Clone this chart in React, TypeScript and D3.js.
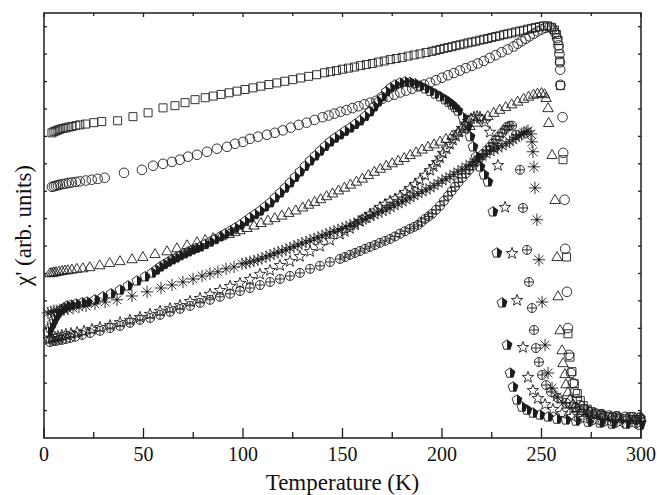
import React from 'react';
import * as d3 from 'd3';

// chi' (arb. units) vs temperature (K)
const squareData: [number, number][] = [
  [4, 11.13], [5, 11.17], [6, 11.2], [7, 11.23], [8, 11.26], [9.5, 11.29], [11, 11.31], [12.5, 11.34],
  [14, 11.36], [16, 11.39], [18, 11.42], [21, 11.45], [25, 11.5], [29, 11.54], [37, 11.57], [44.7, 11.72],
  [52.3, 11.86], [59.8, 12.04], [65.8, 12.12], [70.9, 12.23], [75.9, 12.34], [81, 12.41], [85, 12.47],
  [89, 12.53], [93, 12.59], [97, 12.65], [101, 12.71], [105, 12.77], [109, 12.83], [113, 12.89],
  [117, 12.95], [121, 13.01], [125, 13.07], [129, 13.13], [133, 13.19], [137, 13.25], [141, 13.32],
  [144, 13.36], [147, 13.4], [150, 13.45], [153, 13.49], [156, 13.53], [159, 13.58], [162, 13.62],
  [165, 13.66], [168, 13.71], [171, 13.75], [174, 13.8], [177, 13.84], [180, 13.88], [183, 13.93],
  [186, 13.97], [189, 14.01], [192, 14.06], [195, 14.1], [197, 14.14], [199, 14.17], [201, 14.21],
  [203, 14.24], [205, 14.27], [207, 14.31], [209, 14.34], [211, 14.37], [213, 14.41], [215, 14.44],
  [217, 14.47], [219, 14.51], [221, 14.54], [223, 14.57], [225, 14.61], [227, 14.64], [229, 14.67],
  [231, 14.71], [233, 14.74], [235, 14.77], [237, 14.81], [239, 14.84], [241, 14.87], [243, 14.91],
  [245, 14.94], [247, 14.97], [249, 15.0], [251, 15.03], [253, 15.03], [255, 14.98], [256.5, 14.88],
  [257.5, 14.72], [258.3, 14.5], [258.8, 14.2], [259.2, 13.75], [259.5, 12.85], [260.8, 10.15],
  [262.6, 6.6], [263.3, 3.8], [264.3, 2.95], [265.3, 2.42], [266.5, 1.98], [268, 1.62], [269.5, 1.36],
  [271, 1.18], [273, 1.05], [275, 0.96], [277.5, 0.88], [280, 0.83], [283, 0.78], [286, 0.75],
  [289, 0.72], [292, 0.7], [295, 0.68], [298, 0.67], [300, 0.66],
];

const circleData: [number, number][] = [
  [4, 9.16], [5, 9.18], [6, 9.2], [7, 9.22], [8, 9.24], [9.5, 9.26], [11, 9.28], [12.5, 9.3], [14, 9.32],
  [16, 9.34], [18, 9.36], [21, 9.39], [24, 9.42], [27, 9.45], [30.5, 9.49], [40.2, 9.67], [49.2, 9.78],
  [54.8, 9.93], [59.8, 10.0], [64.3, 10.07], [68.3, 10.15], [72.4, 10.26], [76.9, 10.33], [81.9, 10.44],
  [86.9, 10.55], [92, 10.62], [96, 10.73], [100, 10.8], [103.5, 10.91], [107.5, 10.99], [112, 11.06],
  [116, 11.13], [120, 11.22], [124, 11.32], [128, 11.42], [132, 11.5], [136, 11.6], [140, 11.7],
  [143, 11.76], [146, 11.83], [149, 11.9], [152, 11.96], [155, 12.03], [158, 12.1], [161, 12.17],
  [164, 12.23], [167, 12.3], [170, 12.37], [173, 12.45], [176, 12.52], [179, 12.6], [182, 12.67],
  [185, 12.74], [188, 12.82], [191, 12.89], [194, 12.96], [197, 13.05], [200, 13.14], [203, 13.23],
  [206, 13.31], [209, 13.4], [212, 13.49], [215, 13.57], [218, 13.66], [221, 13.75], [224, 13.86],
  [227, 13.96], [230, 14.07], [233, 14.17], [236, 14.28], [238, 14.38], [240, 14.47], [242, 14.56],
  [244, 14.65], [246, 14.74], [248, 14.83], [250, 14.9], [252, 14.96], [254, 14.98], [255.5, 14.93],
  [256.8, 14.78], [257.8, 14.58], [258.5, 14.32], [259, 14.0], [259.3, 13.7], [259.4, 13.43],
  [259.5, 12.88], [260.6, 11.7], [260.9, 10.4], [261.6, 8.69], [261.9, 6.9], [262.8, 5.33],
  [263.3, 4.01], [263.8, 3.03], [264.8, 2.37], [265.8, 2.0], [266.8, 1.68], [267.8, 1.42],
  [269.3, 1.2], [271.4, 1.06], [274, 0.95], [277, 0.9], [280, 0.86], [284, 0.82], [288, 0.79],
  [292, 0.77], [296, 0.76], [299.5, 0.75],
];

const triangleData: [number, number][] = [
  [3, 6.02], [4, 6.03], [5, 6.05], [6, 6.06], [7.5, 6.08], [9, 6.1], [10.5, 6.12], [12, 6.13], [14, 6.15],
  [16.5, 6.18], [19.5, 6.2], [23, 6.24], [28, 6.31], [33, 6.39], [38.2, 6.46], [44.2, 6.53], [49.7, 6.61],
  [55.8, 6.72], [61.8, 6.82], [66.8, 6.93], [71.9, 7.04], [76.9, 7.15], [81, 7.23], [85, 7.3], [89, 7.37],
  [93, 7.45], [96, 7.52], [98.5, 7.59], [102, 7.67], [105.5, 7.76], [109, 7.85], [112.5, 7.94],
  [116, 8.03], [119.5, 8.12], [123, 8.22], [126.5, 8.31], [130, 8.42], [133, 8.52], [136, 8.62],
  [139, 8.72], [142, 8.83], [145, 8.93], [148, 9.04], [151, 9.14], [154, 9.25], [157, 9.36], [160, 9.47],
  [163, 9.6], [166, 9.72], [169, 9.83], [172, 9.94], [175, 10.03], [178, 10.12], [181, 10.22],
  [184, 10.33], [187, 10.43], [190, 10.53], [193, 10.63], [196, 10.72], [199, 10.82], [202, 10.92],
  [205, 11.03], [208, 11.15], [211, 11.27], [214, 11.39], [217, 11.51], [220, 11.63], [223, 11.75],
  [226, 11.87], [229, 11.98], [232, 12.08], [235, 12.18], [238, 12.28], [241, 12.38], [243.5, 12.46],
  [246, 12.53], [248, 12.57], [250, 12.59], [251.5, 12.55], [252.3, 12.41], [253.3, 12.04],
  [253.6, 11.5], [255.3, 10.33], [256.8, 8.69], [257.8, 6.61], [258.3, 5.18], [259.3, 3.94],
  [260.3, 3.21], [260.8, 2.74], [261.8, 2.34], [262.3, 1.97], [263.3, 1.68], [264.3, 1.42],
  [265.8, 1.24], [267.8, 1.09], [270.4, 0.99], [273.4, 0.91], [277, 0.86], [281, 0.82], [285, 0.79],
  [289, 0.77], [293, 0.75], [297, 0.74], [300, 0.73],
];

const pentagonData: [number, number][] = [
  [2, 3.87], [3, 4.01], [4, 4.16], [5, 4.31], [6, 4.45], [7, 4.56], [8.5, 4.67], [10, 4.74], [11.6, 4.82],
  [13.6, 4.85], [16.1, 4.89], [19.1, 4.93], [21.6, 4.96], [25.6, 5.04], [29.6, 5.15], [33.7, 5.26],
  [38.2, 5.4], [42.2, 5.55], [46.7, 5.73], [50.8, 5.88], [54.3, 6.02], [56.3, 6.13], [58.3, 6.24],
  [60.3, 6.33], [62.3, 6.42], [64.3, 6.5], [66.3, 6.57], [68.3, 6.65], [70.4, 6.72], [72.4, 6.79],
  [74.4, 6.86], [76.4, 6.92], [78.4, 6.97], [80.9, 7.06], [83.4, 7.15], [85.9, 7.24], [88.4, 7.34],
  [90.9, 7.44], [93.5, 7.55], [96, 7.66], [98.5, 7.77], [101, 7.9], [103.5, 8.03], [106, 8.15],
  [108.5, 8.28], [111, 8.43], [113.6, 8.58], [116.1, 8.76], [118.6, 8.94], [121.1, 9.12], [123.6, 9.31],
  [126.1, 9.51], [128.6, 9.71], [131.1, 9.91], [133.7, 10.11], [136.2, 10.29], [138.7, 10.47],
  [141.2, 10.64], [143.7, 10.8], [146.2, 10.94], [148.7, 11.06], [151.2, 11.19], [153.8, 11.31],
  [156.3, 11.44], [158.8, 11.57], [161.3, 11.73], [163.8, 11.9], [165.8, 12.08], [167.8, 12.26],
  [169.8, 12.45], [171.9, 12.63], [174.1, 12.77], [176.4, 12.88], [178.9, 12.95], [181.4, 12.99],
  [183.9, 12.97], [186.4, 12.92], [188.9, 12.84], [191.5, 12.74], [194, 12.65], [196.5, 12.55],
  [199, 12.45], [201.5, 12.34], [203.3, 12.25], [205, 12.15], [206.5, 12.05], [208, 11.93],
  [210.6, 11.68], [212.6, 11.35], [214.1, 10.99], [215.6, 10.62], [217.1, 10.26], [219.1, 9.89],
  [221.1, 9.6], [223.1, 9.34], [225.6, 8.25], [227.6, 6.75], [230.2, 4.93], [232.7, 3.39],
  [234.2, 2.37], [235.7, 1.86], [237.7, 1.39], [240.2, 1.13], [242.7, 1.02], [245.7, 0.91],
  [249.2, 0.84], [253.3, 0.77], [257.8, 0.69], [262.3, 0.66], [267.3, 0.62], [273.4, 0.58],
  [279.4, 0.55], [285.4, 0.51], [292.5, 0.51], [299.5, 0.47],
];

const starData: [number, number][] = [
  [2.5, 3.61], [4, 3.65], [5.5, 3.69], [7, 3.72], [9, 3.76], [11, 3.8], [13.6, 3.83], [16.6, 3.87],
  [20.1, 3.91], [24.1, 3.98], [28.1, 4.05], [33.2, 4.12], [38.2, 4.23], [43.2, 4.31], [48.2, 4.42],
  [53.3, 4.53], [58.3, 4.64], [63.3, 4.74], [68.3, 4.85], [73.4, 5.0], [78.4, 5.11], [83.4, 5.26],
  [88.4, 5.4], [93.5, 5.55], [98.5, 5.66], [103.5, 5.8], [108.5, 5.99], [113.6, 6.13], [118.6, 6.31],
  [123.6, 6.46], [128.6, 6.64], [133.7, 6.82], [138.7, 7.01], [143.7, 7.23], [148.7, 7.45],
  [151.2, 7.55], [153.8, 7.66], [156.3, 7.79], [158.8, 7.92], [161.3, 8.05], [163.8, 8.18],
  [166.3, 8.3], [168.8, 8.43], [171.4, 8.54], [173.9, 8.65], [176.4, 8.74], [178.9, 8.83],
  [181.4, 8.97], [183.9, 9.12], [186.4, 9.27], [188.9, 9.42], [191.5, 9.6], [194, 9.78], [195.8, 9.92],
  [197.5, 10.07], [199, 10.23], [200.5, 10.4], [202.3, 10.56], [204, 10.73], [205.5, 10.88],
  [207, 11.02], [208.5, 11.17], [210, 11.31], [211.6, 11.44], [213.1, 11.57], [214.6, 11.66],
  [216.1, 11.72], [217.6, 11.74], [219.1, 11.72], [221.6, 11.53], [224.1, 11.17], [226.1, 10.62],
  [228.1, 9.96], [231.7, 8.43], [235.2, 6.75], [237.7, 5.04], [240.7, 3.32], [243.2, 2.23],
  [245.7, 1.75], [248.2, 1.46], [251.8, 1.24], [255.8, 1.06], [260.3, 0.91], [265.3, 0.8],
  [271.4, 0.73], [277.4, 0.66], [283.4, 0.62], [289.4, 0.58], [295.5, 0.55], [299.5, 0.55],
];

const asteriskData: [number, number][] = [
  [2, 4.56], [3.5, 4.6], [5, 4.64], [6.5, 4.64], [8, 4.67], [10, 4.67], [12, 4.71], [14.6, 4.74],
  [17.6, 4.78], [21.1, 4.82], [25.6, 4.89], [30.7, 4.96], [36.7, 5.04], [44.2, 5.18], [51.8, 5.33],
  [58.8, 5.47], [64.3, 5.58], [69.8, 5.69], [74.9, 5.8], [79.4, 5.91], [83.4, 5.99], [87.4, 6.06],
  [91.5, 6.17], [95.5, 6.24], [99.5, 6.35], [101.5, 6.38], [103.5, 6.42], [105.5, 6.46], [107.5, 6.5],
  [109.5, 6.55], [111.6, 6.61], [113.6, 6.66], [115.6, 6.72], [117.6, 6.77], [119.6, 6.82],
  [121.6, 6.87], [123.6, 6.93], [125.6, 6.98], [127.6, 7.04], [129.6, 7.1], [131.7, 7.15], [133.7, 7.2],
  [135.7, 7.26], [137.7, 7.31], [139.7, 7.37], [141.7, 7.42], [143.7, 7.48], [145.7, 7.53],
  [147.7, 7.59], [149.8, 7.64], [151.8, 7.7], [153.8, 7.75], [155.8, 7.81], [157.8, 7.88],
  [159.8, 7.96], [161.8, 8.01], [163.8, 8.07], [165.8, 8.14], [167.8, 8.21], [169.8, 8.26],
  [171.9, 8.32], [173.9, 8.4], [175.9, 8.47], [177.9, 8.54], [179.9, 8.61], [181.9, 8.68],
  [183.9, 8.76], [185.9, 8.83], [187.9, 8.91], [189.9, 8.98], [192, 9.05], [194, 9.12], [196, 9.2],
  [198, 9.29], [200, 9.38], [202, 9.45], [204, 9.53], [206, 9.62], [208, 9.71], [210, 9.8],
  [212.1, 9.89], [214.1, 9.98], [216.1, 10.07], [218.1, 10.16], [220.1, 10.26], [222.1, 10.35],
  [224.1, 10.44], [226.1, 10.51], [228.1, 10.58], [230.1, 10.65], [232.2, 10.73], [234, 10.8],
  [235.7, 10.88], [237.2, 10.95], [238.7, 11.02], [240, 11.07], [241.2, 11.13], [242.3, 11.17],
  [243.2, 11.2], [244.7, 11.09], [245.2, 10.8], [245.7, 10.44], [246.2, 9.89], [246.7, 9.12],
  [247.7, 7.96], [248.7, 6.5], [250.3, 4.96], [251.8, 3.39], [253.3, 2.37], [255.3, 1.82], [257.8, 1.5],
  [260.8, 1.28], [264.3, 1.09], [268.3, 0.95], [272.9, 0.84], [277.9, 0.77], [283.4, 0.69],
  [289.4, 0.66], [295.5, 0.62], [299.5, 0.62],
];

const oplusData: [number, number][] = [
  [3, 3.5], [4.5, 3.54], [6, 3.54], [7.5, 3.58], [9, 3.58], [11, 3.61], [13.1, 3.65], [15.6, 3.69],
  [19.1, 3.76], [23.1, 3.83], [28.1, 3.91], [33.2, 4.01], [38.2, 4.09], [43.2, 4.2], [48.2, 4.31],
  [53.3, 4.38], [58.3, 4.49], [63.3, 4.6], [68.3, 4.71], [73.4, 4.82], [78.4, 4.93], [83.4, 5.04],
  [88.4, 5.15], [93.5, 5.26], [98.5, 5.36], [103.5, 5.47], [108.5, 5.58], [113.6, 5.69], [118.6, 5.8],
  [123.6, 5.91], [128.6, 6.02], [133.7, 6.17], [138.7, 6.28], [143.7, 6.42], [148.7, 6.53],
  [151.2, 6.6], [153.8, 6.68], [156.3, 6.75], [158.8, 6.82], [161.3, 6.9], [163.8, 6.97], [166.3, 7.04],
  [168.8, 7.12], [171.4, 7.19], [173.9, 7.26], [176.4, 7.35], [178.9, 7.45], [181.4, 7.54],
  [183.9, 7.63], [185.9, 7.7], [187.9, 7.77], [189.7, 7.88], [191.5, 7.99], [193.3, 8.08], [195, 8.18],
  [197, 8.32], [199, 8.47], [201, 8.65], [203, 8.83], [204.8, 9.0], [206.5, 9.16], [208.3, 9.33],
  [210.1, 9.49], [211.9, 9.64], [213.6, 9.78], [215.4, 9.93], [217.1, 10.07], [218.9, 10.22],
  [220.6, 10.36], [222.4, 10.49], [224.1, 10.62], [225.6, 10.75], [227.1, 10.88], [228.7, 11.0],
  [230.2, 11.13], [231.5, 11.24], [232.7, 11.35], [234, 11.39], [235.2, 11.39], [237.2, 11.06],
  [239.2, 9.78], [240.7, 8.39], [242.7, 6.86], [243.7, 5.69], [245.2, 4.74], [246.2, 3.94],
  [247.2, 3.28], [248.7, 2.77], [250.3, 2.3], [252.3, 1.93], [254.8, 1.68], [258.3, 1.46],
  [262.3, 1.28], [267.3, 1.13], [273.4, 0.99], [280.4, 0.88], [287.4, 0.8], [294.5, 0.77], [299.5, 0.73],
];

const xTicks = [0, 50, 100, 150, 200, 250, 300];
const xMinorTicks = [25, 75, 125, 175, 225, 275];
const yTicks = [1, 2, 3, 4, 5, 6, 7, 8, 9, 10, 11, 12, 13, 14, 15];

const W = 657;
const H = 495;
const left = 44, right = 641, top = 13, bottom = 438;
const ink = '#1c1c1c';
const font = '"Liberation Serif", "Times New Roman", serif';

// marker outlines, centred on 0,0
const polygon = (n: number, r: number, rot: number) =>
  d3.range(n).map(i => {
    const a = rot + (i * 2 * Math.PI) / n;
    return [r * Math.cos(a), r * Math.sin(a)];
  });
const toPath = (pts: number[][]) => 'M' + pts.map(p => p[0].toFixed(2) + ',' + p[1].toFixed(2)).join('L') + 'Z';

const squarePath = 'M-4,-4h8v8h-8Z';
const trianglePath = toPath(polygon(3, 6, -Math.PI / 2).map(p => [p[0], p[1] + 0.8]));
const pentPts = polygon(5, 5.2, -Math.PI / 2);
const pentPath = toPath(pentPts);
const pentHalf = toPath([pentPts[0], pentPts[1], pentPts[2], [0, pentPts[2][1]]]);
const starPath = toPath(
  d3.range(10).map(i => {
    const a = -Math.PI / 2 + (i * Math.PI) / 5;
    const r = i % 2 === 0 ? 6 : 2.5;
    return [r * Math.cos(a), r * Math.sin(a) + 0.5];
  })
);
const asteriskPath = d3
  .range(4)
  .map(i => {
    const a = (i * Math.PI) / 4;
    const dx = 6.2 * Math.cos(a), dy = 6.2 * Math.sin(a);
    return `M${(-dx).toFixed(2)},${(-dy).toFixed(2)}L${dx.toFixed(2)},${dy.toFixed(2)}`;
  })
  .join('');

const App = () => {
  const x = d3.scaleLinear().domain([0, 300]).range([left, right]);
  const y = d3.scaleLinear().domain([0, 15.5]).range([bottom, top]);

  const mark = (data: [number, number][], draw: () => React.ReactNode) =>
    data.map((d, i) => (
      <g key={i} transform={`translate(${x(d[0]).toFixed(2)},${y(d[1]).toFixed(2)})`}>
        {draw()}
      </g>
    ));

  const stroke = { fill: 'none', stroke: ink, strokeWidth: 0.9 };

  return (
    <svg width={W} height={H} style={{ position: 'absolute', left: 0, top: 0, background: '#fff' }}>
      <rect x={0} y={0} width={W} height={H} fill="#fff" />

      <g>{mark(squareData, () => <path d={squarePath} {...stroke} />)}</g>
      <g>{mark(circleData, () => <circle r={4.8} {...stroke} />)}</g>
      <g>{mark(triangleData, () => <path d={trianglePath} {...stroke} />)}</g>
      <g>{mark(starData, () => <path d={starPath} {...stroke} />)}</g>
      <g>
        {mark(asteriskData, () => (
          <>
            <path d={asteriskPath} {...stroke} />
            <circle r={1.2} fill={ink} />
          </>
        ))}
      </g>
      <g>
        {mark(oplusData, () => (
          <>
            <circle r={4.5} {...stroke} />
            <path d="M-4.5,0H4.5M0,-4.5V4.5" {...stroke} />
          </>
        ))}
      </g>
      <g>
        {mark(pentagonData, () => (
          <>
            <path d={pentHalf} fill={ink} />
            <path d={pentPath} {...stroke} />
          </>
        ))}
      </g>

      {/* frame and ticks */}
      <rect x={left} y={top} width={right - left} height={bottom - top} fill="none" stroke={ink} strokeWidth={1.5} />
      {xTicks.map(t => (
        <g key={'xt' + t}>
          <line x1={x(t)} x2={x(t)} y1={bottom} y2={bottom - 10} stroke={ink} strokeWidth={1.3} />
          <line x1={x(t)} x2={x(t)} y1={top} y2={top + 4} stroke={ink} strokeWidth={1.3} />
          <text x={x(t)} y={461} textAnchor="middle" fontFamily={font} fontSize={20} fill="#111">
            {t}
          </text>
        </g>
      ))}
      {xMinorTicks.map(t => (
        <g key={'xm' + t}>
          <line x1={x(t)} x2={x(t)} y1={bottom} y2={bottom - 6} stroke={ink} strokeWidth={1.3} />
          <line x1={x(t)} x2={x(t)} y1={top} y2={top + 3} stroke={ink} strokeWidth={1.3} />
        </g>
      ))}
      {yTicks.map(t => (
        <g key={'yt' + t}>
          <line x1={left} x2={left + 3} y1={y(t)} y2={y(t)} stroke={ink} strokeWidth={1.3} />
          <line x1={right} x2={right - 3} y1={y(t)} y2={y(t)} stroke={ink} strokeWidth={1.3} />
        </g>
      ))}

      <text x={(left + right) / 2} y={490} textAnchor="middle" fontFamily={font} fontSize={23} fill="#111">
        Temperature (K)
      </text>
      <text
        transform={`translate(31,${(top + bottom) / 2}) rotate(-90)`}
        textAnchor="middle"
        fontFamily={font}
        fontSize={23}
        fill="#111"
      >
        χ' (arb. units)
      </text>
    </svg>
  );
};

export default App;
